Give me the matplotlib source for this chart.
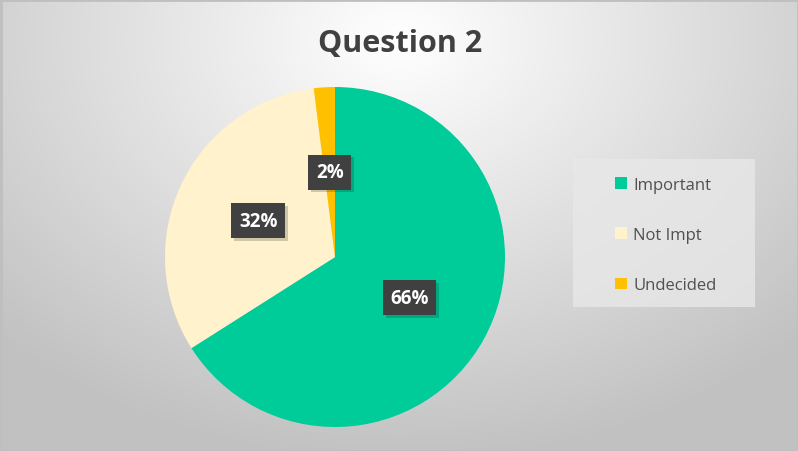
import numpy as np
import matplotlib.pyplot as plt
from matplotlib.patches import Rectangle
import matplotlib.patheffects as pe

labels = ['Important', 'Not Impt', 'Undecided']
values = [66, 32, 2]
colors = ['#00CC99', '#FFF2CC', '#FFC000']

W, H = 798, 452
fig = plt.figure(figsize=(W / 100, H / 100), dpi=100)

# radial gradient background
bg = fig.add_axes([0, 0, 1, 1])
yy, xx = np.mgrid[0:H, 0:W]
d = np.sqrt(((xx - 400) / 560) ** 2 + ((yy - 40) / 420) ** 2)
g = np.clip(1.0 - 0.24 * d, 0.76, 1.0)
bg.imshow(np.dstack([g, g, g]), extent=[0, W, H, 0], aspect='auto')
bg.add_patch(Rectangle((0.5, 0.5), W - 1, H - 1, fill=False, ec='#BFBFBF', lw=2))
bg.set_xlim(0, W)
bg.set_ylim(H, 0)
bg.axis('off')

fig.text(400 / W, 1 - 44 / H, 'Question 2', ha='center', va='center',
         fontsize=22, fontweight='bold', color='#404040', family='Open Sans')

# pie
cx, cy, r = 335, 258, 170
ax = fig.add_axes([(cx - r) / W, (H - cy - r) / H, 2 * r / W, 2 * r / H])
wedges, _, autotexts = ax.pie(values, colors=colors, startangle=90, counterclock=False,
                              autopct='%1.0f%%', pctdistance=0.5,
                              wedgeprops=dict(linewidth=0),
                              textprops=dict(color='white', fontweight='bold', fontsize=13.5,
                                             family='Open Sans'))
for t in autotexts:
    t.set_bbox(dict(boxstyle='square,pad=0.4', fc='#404040', ec='none'))
    t.get_bbox_patch().set_path_effects([pe.SimplePatchShadow(offset=(2, -2), alpha=0.2),
                                         pe.Normal()])
ax.set_xlim(-1, 1)
ax.set_ylim(-1, 1)
ax.set_aspect('equal')

# legend
lx0, ly0, lx1, ly1 = 573, 160, 755, 308
bg.add_patch(Rectangle((lx0, ly0), lx1 - lx0, ly1 - ly0, fc='#E8E8E8', ec='none', alpha=0.8))
leg = fig.legend(wedges, labels, loc='center left',
                 bbox_to_anchor=((lx0 + 27) / W, 1 - ((ly0 + ly1) / 2 + 2) / H),
                 frameon=False, labelcolor='#505050', handlelength=0.7,
                 handleheight=0.7, handletextpad=0.4, labelspacing=2.05,
                 prop=dict(family='Open Sans', size=12))

fig.savefig('out.png', dpi=100)
